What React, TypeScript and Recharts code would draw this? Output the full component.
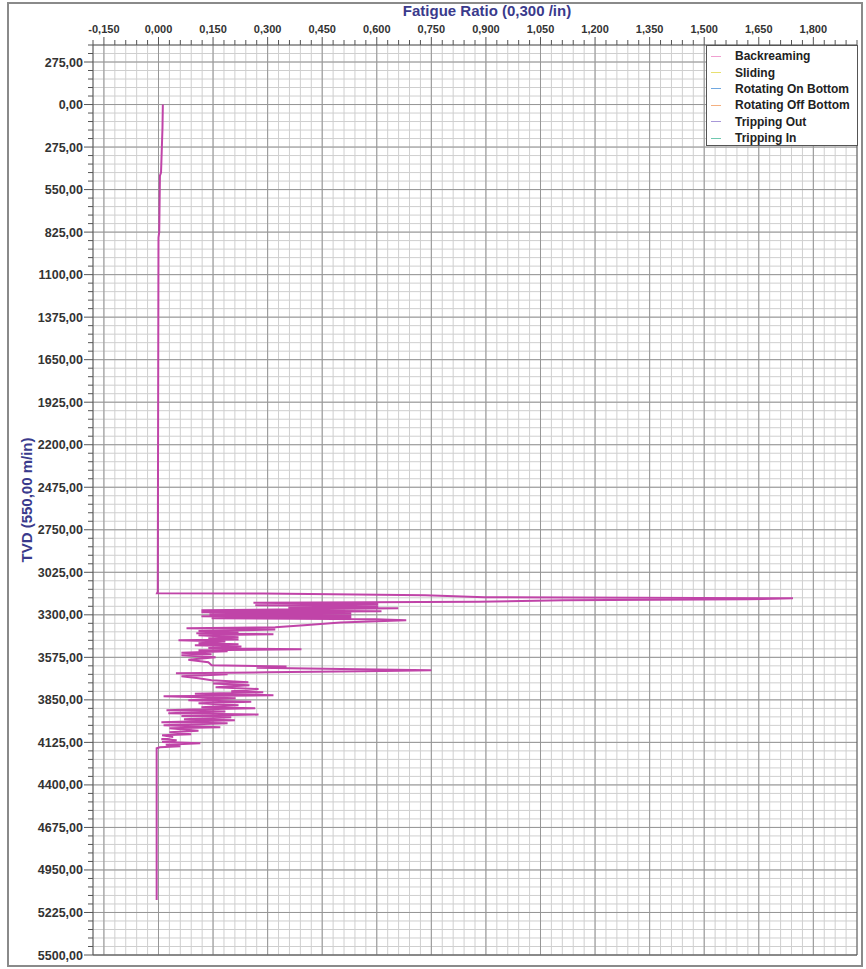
import * as React from "react";
import { CartesianGrid, Line, LineChart, ReferenceLine, XAxis, YAxis } from "recharts";

// profondeur (TVD, m) et rapport de fatigue, dans l'ordre de la profondeur
const DEPTH = [
  0, 150, 440, 460, 825, 860, 3150, 3160,
  3162, 3174, 3186, 3193, 3200, 3206, 3215, 3222,
  3230, 3238, 3245, 3252, 3258, 3270, 3277, 3284, 3290, 3297,
  3303, 3310, 3316, 3322, 3328, 3335, 3350, 3368, 3381, 3387,
  3395, 3405, 3413, 3419, 3425, 3432, 3445, 3452, 3460, 3465,
  3472, 3484, 3490, 3497, 3505, 3515, 3523, 3529, 3536, 3545,
  3555, 3562, 3575, 3590, 3607, 3626, 3635, 3642, 3652, 3659,
  3664, 3672, 3678, 3685, 3697, 3710, 3723, 3736, 3745, 3756,
  3768, 3780, 3795, 3801, 3810, 3820, 3827, 3840, 3853, 3862,
  3872, 3885, 3898, 3905, 3912, 3917, 3925, 3937, 3945, 3955,
  3963, 3975, 3982, 3995, 4001, 4015, 4027, 4034, 4050, 4059,
  4072, 4079, 4090, 4105, 4111, 4122, 4130, 4140, 4150, 4156,
  4163, 5145,
];
const RATIO = [
  0.012, 0.011, 0.007, 0.004, 0.002, 0.0, -0.002, -0.004,
  0.288, 0.733, 0.896, 1.744, 1.621, 1.113, 0.879, 0.261,
  0.604, 0.266, 0.604, 0.357, 0.659, 0.118, 0.613, 0.118, 0.53, 0.14,
  0.53, 0.118, 0.53, 0.146, 0.596, 0.681, 0.5, 0.4, 0.321, 0.077,
  0.321, 0.11, 0.22, 0.104, 0.316, 0.11, 0.22, 0.137, 0.22, 0.055,
  0.184, 0.11, 0.22, 0.1, 0.228, 0.137, 0.393, 0.11, 0.19, 0.063,
  0.146, 0.063, 0.157, 0.082, 0.137, 0.146, 0.352, 0.27, 0.55, 0.75,
  0.62, 0.3, 0.048, 0.19, 0.063, 0.11, 0.146, 0.247, 0.15, 0.25,
  0.157, 0.275, 0.2, 0.288, 0.1, 0.316, 0.014, 0.212, 0.082, 0.255,
  0.11, 0.22, 0.118, 0.266, 0.09, 0.022, 0.184, 0.027, 0.275, 0.063,
  0.2, 0.07, 0.21, 0.008, 0.19, 0.014, 0.17, 0.03, 0.11, 0.03,
  0.09, 0.01, 0.04, 0.008, 0.05, 0.01, 0.115, 0.02, 0.06, 0.004,
  -0.005, -0.005,
];

const X_MAJOR = [-0.15, 0, 0.15, 0.3, 0.45, 0.6, 0.75, 0.9, 1.05, 1.2, 1.35, 1.5, 1.65, 1.8];
const Y_MAJOR = [
  -275, 0, 275, 550, 825, 1100, 1375, 1650, 1925, 2200, 2475, 2750,
  3025, 3300, 3575, 3850, 4125, 4400, 4675, 4950, 5225, 5500,
];
const X_DOMAIN: [number, number] = [-0.18, 1.92];
const Y_DOMAIN: [number, number] = [-385, 5500];

const LEGEND_NAMES = [
  "Backreaming",
  "Sliding",
  "Rotating On Bottom",
  "Rotating Off Bottom",
  "Tripping Out",
  "Tripping In",
];
const LEGEND_COLORS = ["#f0a0d0", "#e8e070", "#70a8e0", "#f4b080", "#a898d8", "#70c8b0"];

const LINE_COLOR = "#c044a8";
const TITLE_COLOR = "#3a3a8c";
const FONT = "'Liberation Sans', Arial, sans-serif";

// graduations mineures : 0,03 en x, 55 m en y
const X_MINOR = Array.from({ length: 71 }, (_, i) => Math.round((-0.18 + i * 0.03) * 1000) / 1000);
const Y_MINOR = Array.from({ length: 108 }, (_, i) => -385 + i * 55);

const isMajorX = (v: number) => X_MAJOR.some((m) => Math.abs(m - v) < 1e-6);
const isMajorY = (v: number) => Y_MAJOR.includes(v);

function XTick(props: any) {
  const { x, y, payload } = props;
  const major = isMajorX(payload.value);
  return (
    <g>
      <line x1={x} x2={x} y1={y - (major ? 8 : 5)} y2={y} stroke="#555" />
      {major ? (
        <text x={x} y={y - 12} textAnchor="middle" fontSize={11} fontWeight="bold" fill="#333" fontFamily={FONT}>
          {payload.value.toFixed(3).replace(".", ",")}
        </text>
      ) : null}
    </g>
  );
}

function YTick(props: any) {
  const { x, y, payload } = props;
  const major = isMajorY(payload.value);
  return (
    <g>
      <line x1={x - (major ? 9 : 5)} x2={x} y1={y} y2={y} stroke="#555" />
      {major ? (
        <text x={x - 10} y={y + 4.5} textAnchor="end" fontSize={12.5} fontWeight="bold" fill="#333" fontFamily={FONT}>
          {Math.abs(payload.value).toFixed(2).replace(".", ",")}
        </text>
      ) : null}
    </g>
  );
}

export default function App() {
  const rows = DEPTH.map((d, i) => ({ depth: d, ratio: RATIO[i] }));
  return (
    <div style={{ position: "absolute", left: 0, top: 0, width: 866, height: 969, background: "#fff" }}>
      <div
        style={{
          position: "absolute",
          left: 7,
          top: 2,
          width: 856,
          height: 965,
          boxSizing: "border-box",
          border: "2px solid #8a8a8a",
        }}
      />
      <LineChart
        width={866}
        height={969}
        data={rows}
        layout="vertical"
        margin={{ top: 15, right: 9, bottom: 14, left: 13 }}
        style={{ position: "absolute", left: 0, top: 0 }}
      >
        <CartesianGrid stroke="#cfcfcf" />
        <XAxis
          type="number"
          dataKey="ratio"
          orientation="top"
          domain={X_DOMAIN}
          allowDataOverflow
          ticks={X_MINOR}
          interval={0}
          height={30}
          tickSize={0}
          tickMargin={0}
          tick={<XTick />}
          axisLine={{ stroke: "#555" }}
        />
        <YAxis
          type="number"
          dataKey="depth"
          domain={Y_DOMAIN}
          allowDataOverflow
          ticks={Y_MINOR}
          interval={0}
          width={80}
          tickSize={0}
          tickMargin={0}
          tick={<YTick />}
          axisLine={{ stroke: "#555" }}
        />
        {X_MAJOR.map((v) => (
          <ReferenceLine key={"x" + v} x={v} stroke="#969696" />
        ))}
        {Y_MAJOR.map((v) => (
          <ReferenceLine key={"y" + v} y={v} stroke="#969696" />
        ))}
        <ReferenceLine x={X_DOMAIN[1]} stroke="#555" />
        <ReferenceLine y={Y_DOMAIN[1]} stroke="#555" />
        <Line
          dataKey="ratio"
          stroke={LINE_COLOR}
          strokeWidth={2}
          dot={false}
          isAnimationActive={false}
        />
      </LineChart>
      <div
        style={{
          position: "absolute",
          left: 0,
          width: 974,
          top: 2,
          textAlign: "center",
          fontFamily: FONT,
          fontWeight: "bold",
          fontSize: 15,
          color: TITLE_COLOR,
        }}
      >
        Fatigue Ratio (0,300 /in)
      </div>
      <div
        style={{
          position: "absolute",
          left: 26,
          top: 500,
          transform: "translate(-50%, -50%) rotate(-90deg)",
          whiteSpace: "nowrap",
          fontFamily: FONT,
          fontWeight: "bold",
          fontSize: 15,
          color: TITLE_COLOR,
        }}
      >
        TVD (550,00 m/in)
      </div>
      <div
        style={{
          position: "absolute",
          left: 706,
          top: 45,
          width: 152,
          height: 101,
          boxSizing: "border-box",
          border: "1px solid #555",
          background: "#fff",
          paddingTop: 2,
        }}
      >
        {LEGEND_NAMES.map((name, i) => (
          <div
            key={name}
            style={{ display: "flex", alignItems: "center", height: 16.4, fontFamily: FONT, fontSize: 12, fontWeight: "bold", color: "#222", whiteSpace: "nowrap" }}
          >
            <span style={{ display: "inline-block", width: 10, height: 1, background: LEGEND_COLORS[i], marginLeft: 4, marginRight: 14 }} />
            {name}
          </div>
        ))}
      </div>
    </div>
  );
}
